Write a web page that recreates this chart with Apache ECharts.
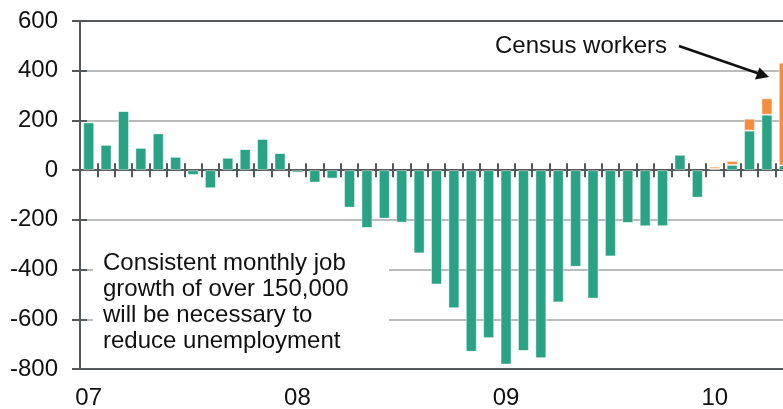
<!DOCTYPE html>
<html>
<head>
<meta charset="utf-8">
<script src="https://cdn.jsdelivr.net/npm/echarts@6/dist/echarts.min.js"></script>
<style>
  html, body { margin: 0; padding: 0; background: #fff; }
  #chart { width: 783px; height: 409px; }
</style>
</head>
<body>
<div id="chart"></div>
<script>
// monthly payroll change (thousands), Jan 2007 - May 2010
const months = [
  'Jan 07', 'Feb 07', 'Mar 07', 'Apr 07', 'May 07', 'Jun 07', 'Jul 07', 'Aug 07', 'Sep 07', 'Oct 07', 'Nov 07', 'Dec 07',
  'Jan 08', 'Feb 08', 'Mar 08', 'Apr 08', 'May 08', 'Jun 08', 'Jul 08', 'Aug 08', 'Sep 08', 'Oct 08', 'Nov 08', 'Dec 08',
  'Jan 09', 'Feb 09', 'Mar 09', 'Apr 09', 'May 09', 'Jun 09', 'Jul 09', 'Aug 09', 'Sep 09', 'Oct 09', 'Nov 09', 'Dec 09',
  'Jan 10', 'Feb 10', 'Mar 10', 'Apr 10', 'May 10'
]
// tick label shown under each January
const yearLabels = { 'Jan 07': '07', 'Jan 08': '08', 'Jan 09': '09', 'Jan 10': '10' }
const excludingCensus = [
  192, 102, 238, 90, 148, 54, -20, -73, 50, 85, 126, 69,
  -10, -50, -34, -151, -233, -195, -211, -335, -460, -556, -731, -676,
  -782, -728, -757, -532, -389, -517, -347, -213, -226, -226, 62, -111,
  5, 21, 159, 223, 19
]
const census = [
  0, 0, 0, 0, 0, 0, 0, 0, 0, 0, 0, 0,
  0, 0, 0, 0, 0, 0, 0, 0, 0, 0, 0, 0,
  0, 0, 0, 0, 0, 0, 0, 0, 0, 0, 0, 0,
  9, 16, 48, 66, 413
]
const noteLines = [
  'Consistent monthly job',
  'growth of over 150,000',
  'will be necessary to',
  'reduce unemployment'
]

const font = '"Liberation Sans", Arial, Helvetica, sans-serif'
const dark = '#55585b'
const green = '#29a383'
const orange = '#f58d3f'

const myChart = echarts.init(document.getElementById('chart'))

const hiddenX = {
  type: 'category',
  data: months,
  axisLabel: { show: false },
  splitLine: { show: false }
}

myChart.setOption({
  animation: false,
  grid: { left: 80, right: -10, top: 21, bottom: 40, containLabel: false, outerBoundsMode: 'none' },
  xAxis: [
    {
      // bottom axis with the year labels
      type: 'category',
      data: months,
      position: 'bottom',
      axisLine: { onZero: false, lineStyle: { color: dark, width: 2 } },
      axisTick: { show: false },
      axisLabel: {
        interval: 0,
        margin: 17,
        fontSize: 24,
        fontFamily: font,
        color: '#111',
        formatter: v => yearLabels[v] || ''
      }
    },
    {
      // top border at 600
      ...hiddenX,
      position: 'top',
      axisLine: { onZero: false, lineStyle: { color: dark, width: 2 } },
      axisTick: { show: false }
    },
    {
      // zero line, ticks pointing down
      ...hiddenX,
      position: 'bottom',
      axisLine: { onZero: true, lineStyle: { color: dark, width: 2 } },
      axisTick: { show: true, interval: 0, length: 7, lineStyle: { color: dark, width: 2 } }
    },
    {
      // zero line, ticks pointing up
      ...hiddenX,
      position: 'bottom',
      axisLine: { show: false, onZero: true },
      axisTick: { show: true, inside: true, interval: 0, length: 7, lineStyle: { color: dark, width: 2 } }
    }
  ],
  yAxis: [
    {
      type: 'value',
      min: -800,
      max: 600,
      interval: 200,
      axisLine: { show: true, lineStyle: { color: dark, width: 2 } },
      axisTick: { show: true, length: 8, lineStyle: { color: dark, width: 2 } },
      axisLabel: { fontSize: 24, fontFamily: font, color: '#111', margin: 22 },
      splitLine: { lineStyle: { color: '#a2a4a6', width: 1.5 } }
    },
    {
      type: 'value',
      position: 'left',
      min: -800,
      max: 600,
      interval: 200,
      axisLine: { show: false },
      axisTick: { show: true, inside: true, length: 7, lineStyle: { color: dark, width: 2 } },
      axisLabel: { show: false },
      splitLine: { show: false }
    }
  ],
  series: [
    {
      name: 'Payrolls excl. census',
      type: 'bar',
      stack: 'jobs',
      barWidth: 11,
      data: excludingCensus,
      itemStyle: { color: green, borderColor: 'rgba(255,255,255,0.45)', borderWidth: 1 }
    },
    {
      name: 'Census workers',
      type: 'bar',
      stack: 'jobs',
      barWidth: 11,
      data: census,
      itemStyle: { color: orange, borderColor: 'rgba(255,255,255,0.45)', borderWidth: 1 }
    }
  ],
  graphic: [
    // white box behind the note, hides the gridlines
    {
      type: 'rect',
      shape: { x: 93, y: 234, width: 296, height: 126 },
      style: { fill: '#fff' },
      z: 50
    },
    {
      type: 'text',
      left: 103,
      top: 250,
      z: 51,
      style: {
        text: noteLines.join('\n'),
        font: '24px ' + font,
        lineHeight: 26,
        fill: '#111'
      }
    },
    {
      type: 'text',
      left: 495,
      top: 34,
      z: 51,
      style: { text: 'Census workers', font: '24px ' + font, fill: '#111' }
    },
    {
      type: 'line',
      z: 51,
      shape: { x1: 679, y1: 46, x2: 760, y2: 74 },
      style: { stroke: '#111', lineWidth: 2.5 }
    },
    {
      type: 'polygon',
      z: 51,
      shape: { points: [[769, 77], [755, 79.5], [759.5, 67.5]] },
      style: { fill: '#111' }
    }
  ]
})
</script>
</body>
</html>
